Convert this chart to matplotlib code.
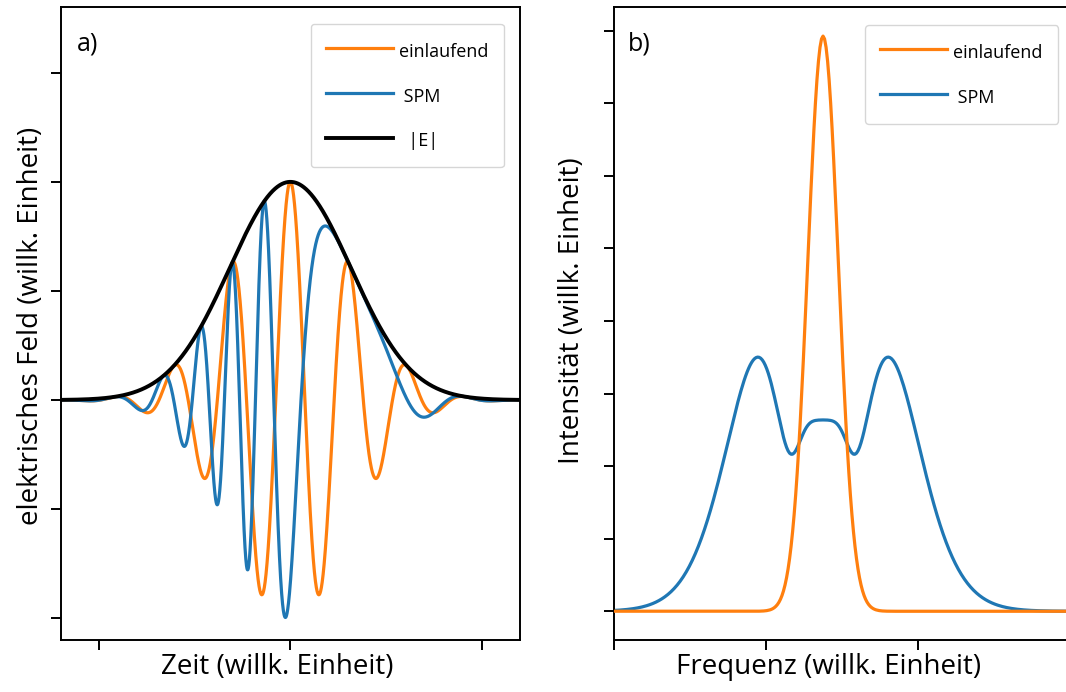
import numpy as np
import matplotlib.pyplot as plt
from matplotlib.ticker import MultipleLocator

plt.rcParams['font.family'] = ['Open Sans', 'DejaVu Sans']

# pulse parameters (time in arbitrary units)
ENV_RATE = 5.0        # envelope A(t) = exp(-ENV_RATE * t^2)
T_CARRIER = 0.305     # carrier period
B_SPM = 10.0          # peak nonlinear phase, phi_NL = B_SPM * A(t)

# spectrum axis: frequency of the carrier on the plotted scale
NU_CENTER = 6.875

labels_a = ['einlaufend', ' SPM', '  |E|']
labels_b = ['einlaufend', ' SPM']
colors = ['#ff7f0e', '#1f77b4', 'black']

t = np.linspace(-1.2, 1.2, 4000)
w0 = 2 * np.pi / T_CARRIER
env = np.exp(-ENV_RATE * t**2)
e_in = env * np.cos(w0 * t)
e_spm = env * np.cos(w0 * t + B_SPM * env)

# spectra of the complex envelopes
ts = np.linspace(-10, 10, 2**15)
dt = ts[1] - ts[0]
env_s = np.exp(-ENV_RATE * ts**2)
nu = np.fft.fftshift(np.fft.fftfreq(ts.size, dt))
spec_in = np.abs(np.fft.fftshift(np.fft.fft(env_s))) * dt
spec_spm = np.abs(np.fft.fftshift(np.fft.fft(env_s * np.exp(1j * B_SPM * env_s)))) * dt
keep = np.abs(nu) < 12
nu, spec_in, spec_spm = nu[keep] + NU_CENTER, spec_in[keep], spec_spm[keep]

fig = plt.figure(figsize=(10.66, 6.92), dpi=100)
ax1 = fig.add_axes([0.0569, 0.0751, 0.4309, 0.9143])
ax2 = fig.add_axes([0.576, 0.0751, 0.4278, 0.9143])

leg_kw = dict(loc='upper right', borderaxespad=0, fontsize=13,
              handlelength=3.7, handleheight=1.6, handletextpad=0.35,
              labelspacing=1.2, borderpad=0.85)

ax1.plot(t, e_in, color=colors[0], lw=2.3, label=labels_a[0])
ax1.plot(t, e_spm, color=colors[1], lw=2.3, label=labels_a[1])
ax1.plot(t, env, color=colors[2], lw=2.8, label=labels_a[2])
ax1.set_xlim(-1.2, 1.2)
ax1.set_ylim(-1.1, 1.8)
ax1.set_xticks([-1, 0, 1])
ax1.yaxis.set_major_locator(MultipleLocator(0.5))
ax1.set_xlabel('Zeit (willk. Einheit)', fontsize=20)
ax1.set_ylabel('elektrisches Feld (willk. Einheit)', fontsize=20)
ax1.xaxis.set_label_coords(0.472, -0.02)
ax1.yaxis.set_label_coords(-0.033, 0.496)
ax1.text(0.036, 0.931, 'a)', transform=ax1.transAxes, fontsize=18,
         va='baseline')
ax1.legend(bbox_to_anchor=(0.965, 0.974), **leg_kw)

ax2.plot(nu, spec_in, color=colors[0], lw=2.3, label=labels_b[0], zorder=3)
ax2.plot(nu, spec_spm, color=colors[1], lw=2.3, label=labels_b[1])
ax2.set_xlim(0, 15)
ax2.set_xticks([0, 5, 10, 15])
ax2.yaxis.set_major_locator(MultipleLocator(0.1))
ax2.set_xlabel('Frequenz (willk. Einheit)', fontsize=20)
ax2.set_ylabel('Intensität (willk. Einheit)', fontsize=20)
ax2.xaxis.set_label_coords(0.4715, -0.02)
ax2.yaxis.set_label_coords(-0.062, 0.521)
ax2.text(0.03, 0.931, 'b)', transform=ax2.transAxes, fontsize=18,
         va='baseline')
ax2.legend(bbox_to_anchor=(0.974, 0.972), **leg_kw)

for ax in (ax1, ax2):
    for s in ax.spines.values():
        s.set_linewidth(1.4)
    ax.tick_params(length=7, width=1.4, labelbottom=False, labelleft=False)

fig.savefig('out.png', dpi=100)
